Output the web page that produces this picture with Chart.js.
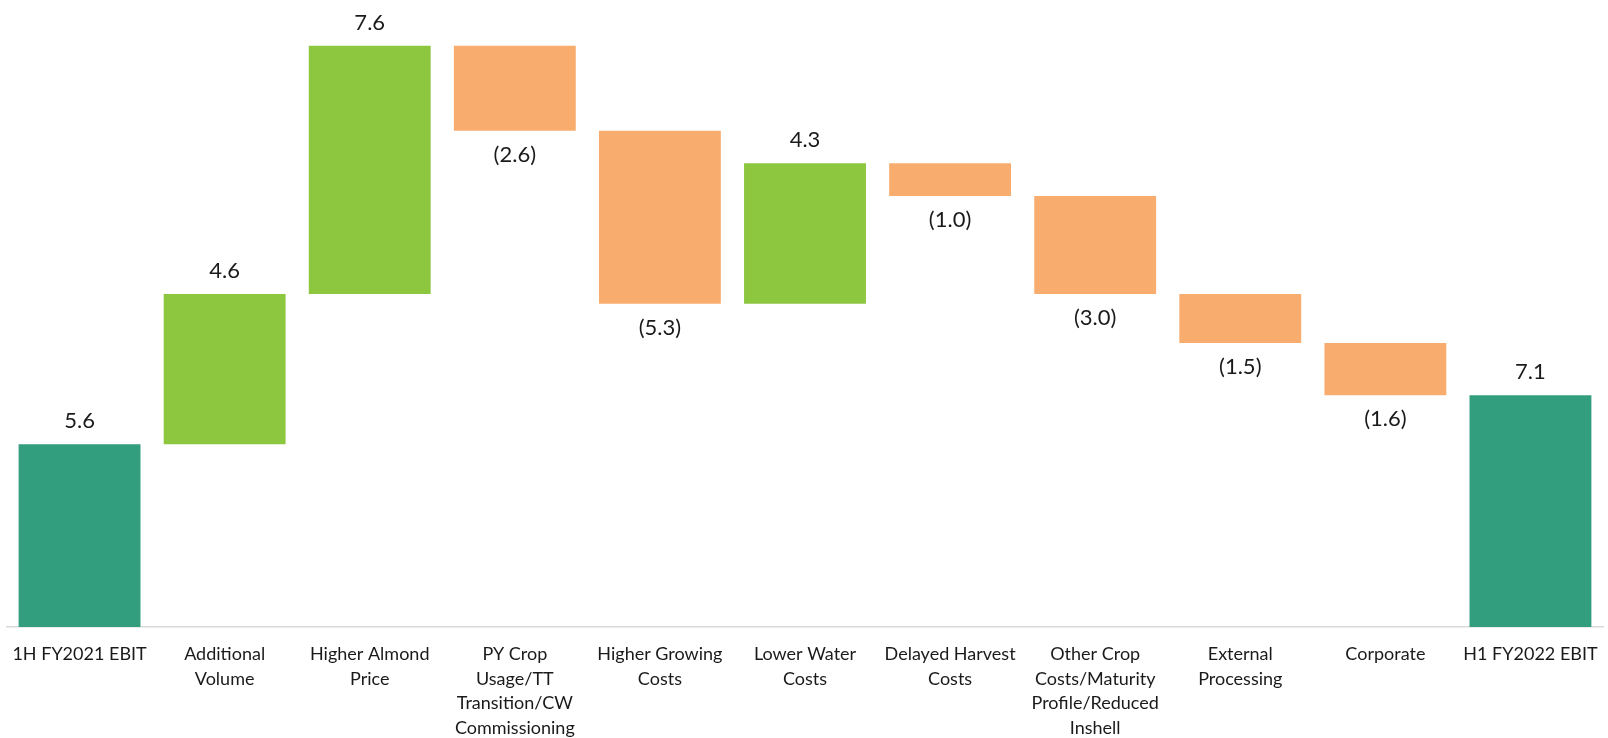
<!DOCTYPE html>
<html lang="en">
<head>
    <meta charset="utf-8">
    <title>EBIT Bridge</title>
    <script src="https://cdn.jsdelivr.net/npm/chart.js"></script>
    <style>
        html, body { margin: 0; padding: 0; background: #fff; }
        .chart-container { width: 1608px; height: 738px; }
    </style>
</head>
<body>
    <div class="chart-container">
        <canvas id="bridgeChart" width="1608" height="738"></canvas>
    </div>

    <script>
        // categories (multi-line as in the original)
        const categories = [
            ['1H FY2021 EBIT'],
            ['Additional', 'Volume'],
            ['Higher Almond', 'Price'],
            ['PY Crop', 'Usage/TT', 'Transition/CW', 'Commissioning'],
            ['Higher Growing', 'Costs'],
            ['Lower Water', 'Costs'],
            ['Delayed Harvest', 'Costs'],
            ['Other Crop', 'Costs/Maturity', 'Profile/Reduced', 'Inshell'],
            ['External', 'Processing'],
            ['Corporate'],
            ['H1 FY2022 EBIT']
        ];
        // change per step; first and last are totals
        const changes = [5.6, 4.6, 7.6, -2.6, -5.3, 4.3, -1.0, -3.0, -1.5, -1.6, 7.1];
        const isTotal = [true, false, false, false, false, false, false, false, false, false, true];

        const totalColor = '#339e7e';
        const upColor = '#8dc63f';
        const downColor = '#f8ad6f';

        // build floating bars
        let running = 0;
        const ranges = changes.map((v, i) => {
            if (isTotal[i]) { running = v; return [0, v]; }
            const start = running;
            running = running + v;
            return [start, running];
        });
        const colors = changes.map((v, i) => isTotal[i] ? totalColor : (v >= 0 ? upColor : downColor));

        const valueLabels = {
            id: 'valueLabels',
            afterDatasetsDraw(chart) {
                const ctx = chart.ctx;
                const meta = chart.getDatasetMeta(0);
                ctx.save();
                ctx.font = '22px Lato';
                ctx.fillStyle = '#1a1a1a';
                ctx.textAlign = 'center';
                ctx.textBaseline = 'middle';
                meta.data.forEach((bar, i) => {
                    const v = changes[i];
                    const top = Math.min(bar.y, bar.base);
                    const bottom = Math.max(bar.y, bar.base);
                    if (v >= 0) {
                        ctx.fillText(v.toFixed(1), bar.x, top - 23);
                    } else {
                        ctx.fillText('(' + Math.abs(v).toFixed(1) + ')', bar.x, bottom + 24);
                    }
                });
                ctx.restore();
            }
        };

        new Chart(document.getElementById('bridgeChart'), {
            type: 'bar',
            data: {
                labels: categories,
                datasets: [{
                    data: ranges,
                    backgroundColor: colors,
                    borderWidth: 0,
                    barPercentage: 0.84,
                    categoryPercentage: 1.0
                }]
            },
            options: {
                responsive: false,
                animation: false,
                layout: { padding: { left: 7, right: 5, top: 0, bottom: 0 } },
                plugins: {
                    legend: { display: false },
                    tooltip: { enabled: false }
                },
                scales: {
                    x: {
                        grid: { display: false },
                        border: { display: true, color: '#d9d9d9', width: 1.5 },
                        ticks: {
                            color: '#1a1a1a',
                            font: { family: 'Lato', size: 18, lineHeight: 1.37 },
                            padding: 7,
                            maxRotation: 0,
                            autoSkip: false
                        },
                        afterFit(scale) { scale.height = 111; }
                    },
                    y: {
                        display: false,
                        min: 0,
                        max: 19.2
                    }
                }
            },
            plugins: [valueLabels]
        });
    </script>
</body>
</html>
